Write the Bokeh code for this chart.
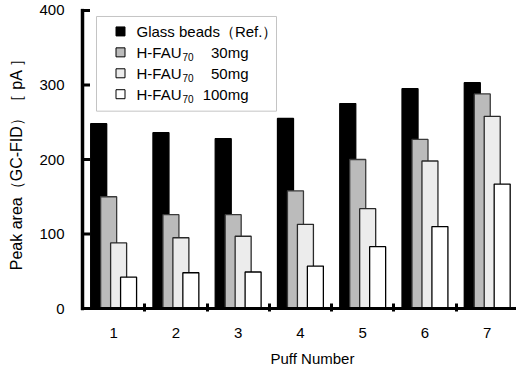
from bokeh.plotting import figure
from bokeh.models import Range1d, FixedTicker, Title, ColumnDataSource
from bokeh.core.properties import value
from bokeh.transform import dodge
from bokeh.embed import file_html
from bokeh.resources import INLINE

# Peak area of the GC-FID signal per puff
puffs = [1, 2, 3, 4, 5, 6, 7]
glass_beads = [248, 236, 228, 255, 275, 295, 303]
hfau_30mg = [150, 126, 126, 158, 200, 227, 288]
hfau_50mg = [88, 95, 97, 113, 134, 198, 258]
hfau_100mg = [42, 48, 49, 57, 83, 110, 167]
y_ticks = [0, 100, 200, 300, 400]
x_ticks = [1, 2, 3, 4, 5, 6, 7]

FONT = "Liberation Sans"
FS = "15px"
W, H = 516, 374

# frame in pixels; the axis rules sit inside the frame
FL, FR, FT, FB = 70, 516, 8, 312
AX_X, AX_Y = 82, 309          # pixel position of the axis rules
AX_TOP = 10                   # pixel position of y = 400
RULE = 3                      # rule thickness, px
TICK = 6                      # inward tick length, px
X0, X1 = 0.5, 7.47            # category axis: x = 0.5 at the left rule
Y0, Y1 = 0, 400

x_scale = (FR - AX_X) / (X1 - X0)     # px per unit
y_scale = (AX_Y - AX_TOP) / (Y1 - Y0)
x_start = X0 - (AX_X - FL) / x_scale
y_start = Y0 - (FB - AX_Y) / y_scale
y_end = Y1 + (AX_TOP - FT) / y_scale

def px2x(px):
    return X0 + (px - AX_X) / x_scale
def px2y(py):
    return Y0 + (AX_Y - py) / y_scale

src = ColumnDataSource(dict(puff=puffs, gb=glass_beads, h30=hfau_30mg,
                            h50=hfau_50mg, h100=hfau_100mg))

p = figure(width=W, height=H, output_backend="svg", toolbar_location=None,
           x_range=Range1d(x_start, X1), y_range=Range1d(y_start, y_end),
           min_border_left=FL, min_border_right=W - FR,
           min_border_top=FT, min_border_bottom=H - FB)
p.outline_line_color = None
p.grid.visible = False
p.background_fill_color = "white"

bw = 0.257
series = [
    ("gb", -0.24, "#000000", "#000000"),
    ("h30", -0.08, "#bbbbbb", "#3a3a3a"),
    ("h50", 0.08, "#ececec", "#2a2a2a"),
    ("h100", 0.24, "#ffffff", "#000000"),
]
for col, off, fill, line in series:
    p.vbar(x=dodge("puff", off), top=col, bottom=0, width=bw, source=src,
           fill_color=fill, line_color=line, line_width=1.3)

# axis rules
hx = RULE / 2 / x_scale
hy = RULE / 2 / y_scale
p.quad(left=[X0 - hx], right=[X1], bottom=[Y0 - hy], top=[Y0 + hy],
       fill_color="black", line_color=None)
p.patch(x=[X0 - hx, X0 + hx, X0 + hx, X0 - hx],
        y=[Y0 - hy, Y0 - hy, Y1 + hy, Y1 + hy],
        fill_color="black", line_color="black", line_width=0.5)

# inward y ticks
p.quad(left=[X0] * len(y_ticks), right=[X0 + (TICK + RULE / 2) / x_scale] * len(y_ticks),
       bottom=[t - hy for t in y_ticks], top=[t + hy for t in y_ticks],
       fill_color="black", line_color=None)

# axes (tick labels; x boundary ticks)
xa = p.xaxis[0]
xa.ticker = FixedTicker(ticks=x_ticks, minor_ticks=[1.5, 2.5, 3.5, 4.5, 5.5, 6.5])
xa.axis_line_color = None
xa.major_tick_line_color = None
xa.minor_tick_in = 8
xa.minor_tick_out = 0
xa.minor_tick_line_color = "black"
xa.minor_tick_line_width = 3
xa.major_label_text_font = FONT
xa.major_label_text_font_size = FS
xa.major_label_text_color = "black"
xa.major_label_standoff = 10

ya = p.yaxis[0]
ya.ticker = FixedTicker(ticks=y_ticks)
ya.axis_line_color = None
ya.major_tick_line_color = None
ya.major_tick_in = 0
ya.major_tick_out = 0
ya.minor_tick_line_color = None
ya.major_label_text_font = FONT
ya.major_label_text_font_size = FS
ya.major_label_text_color = "black"
ya.major_label_standoff = 6
ya.axis_label = "Peak area（GC-FID）［ pA ］"
ya.axis_label_text_font = FONT
ya.axis_label_text_font_size = "16px"
ya.axis_label_text_font_style = "normal"
ya.axis_label_text_color = "black"
ya.axis_label_standoff = 11

p.add_layout(Title(text="Puff Number", align="left", offset=270 - FL,
                   text_font=FONT, text_font_size=FS, text_font_style="normal",
                   text_color="black", standoff=15), "below")

# legend block
p.quad(left=[px2x(96)], right=[px2x(276)], top=[px2y(16)], bottom=[px2y(111)],
       fill_color="white", line_color="#c4c4c4", line_width=1)
rows = [31, 52, 73, 94]
fills = [s[2] for s in series]
p.rect(x=[px2x(120)] * 4, y=[px2y(r) for r in rows], width=9, height=9,
       width_units="screen", height_units="screen",
       fill_color=fills, line_color="#000000", line_width=1)
tx = px2x(136)
p.text(x=[tx], y=[px2y(rows[0])], text=["Glass beads（Ref.）"],
       text_font=value(FONT), text_font_size=FS, text_baseline="middle")
p.text(x=[tx] * 3, y=[px2y(r) for r in rows[1:]], text=["H-FAU"] * 3,
       text_font=value(FONT), text_font_size=FS, text_baseline="middle")
p.text(x=[px2x(182)] * 3, y=[px2y(r + 5) for r in rows[1:]], text=["70"] * 3,
       text_font=value(FONT), text_font_size="10px", text_baseline="middle")
p.text(x=[px2x(248)] * 3, y=[px2y(r) for r in rows[1:]],
       text=["30mg", "50mg", "100mg"],
       text_font=value(FONT), text_font_size=FS, text_baseline="middle",
       text_align="right")

open("out.html", "w").write(file_html(p, INLINE))
